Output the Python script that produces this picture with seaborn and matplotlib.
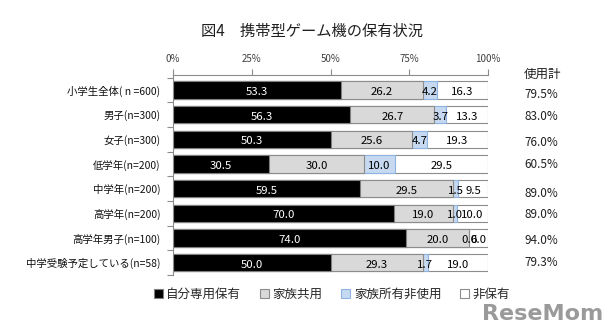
import matplotlib
matplotlib.use("Agg")
import matplotlib.pyplot as plt
from matplotlib.patches import Patch
import seaborn as sns
import pandas as pd
import numpy as np

categories = ["小学生全体( n =600)", "男子(n=300)", "女子(n=300)", "低学年(n=200)",
              "中学年(n=200)", "高学年(n=200)", "高学年男子(n=100)", "中学受験予定している(n=58)"]
own = [53.3, 56.3, 50.3, 30.5, 59.5, 70.0, 74.0, 50.0]
shared = [26.2, 26.7, 25.6, 30.0, 29.5, 19.0, 20.0, 29.3]
family_unused = [4.2, 3.7, 4.7, 10.0, 1.5, 1.0, 0.0, 1.7]
not_owned = [16.3, 13.3, 19.3, 29.5, 9.5, 10.0, 6.0, 19.0]
used_total = ["79.5%", "83.0%", "76.0%", "60.5%", "89.0%", "89.0%", "94.0%", "79.3%"]
series_names = ["自分専用保有", "家族共用", "家族所有非使用", "非保有"]
xticks = [0, 25, 50, 75, 100]
xtick_labels = ["0%", "25%", "50%", "75%", "100%"]
title = "図4　携帯型ゲーム機の保有状況"
right_header = "使用計"

sns.set_theme(style="white")
plt.rcParams["font.family"] = ["Noto Sans CJK JP", "DejaVu Sans"]

colors = ["#000000", "#d9d9d9", "#c6d9f0", "#ffffff"]
edges = ["#7f7f7f", "#8c8c8c", "#8eb4e3", "#8c8c8c"]

df = pd.DataFrame({"cat": categories, "own": own, "shared": shared,
                   "fam": family_unused, "none": not_owned})
cols = ["own", "shared", "fam", "none"]
cum = df[cols].cumsum(axis=1)

fig = plt.figure(figsize=(6.14, 3.29), dpi=100)
ax = fig.add_axes([173 / 614, 1 - 275 / 329, 315 / 614, 200 / 329])

for i in reversed(range(4)):
    sns.barplot(x=cum[cols[i]], y=df["cat"], orient="h", color=colors[i],
                saturation=1, width=0.7, edgecolor=edges[i], linewidth=0.8, ax=ax)

# segment labels
for r in range(len(categories)):
    left = 0.0
    for i, c in enumerate(cols):
        v = df.loc[r, c]
        ax.text(left + v / 2, r + 0.08, f"{v:.1f}", ha="center", va="center",
                fontsize=8.2, color="white" if i == 0 else "black")
        left += v

ax.set_xlim(0, 100)
ax.set_ylim(7.49, -0.61)
ax.set_xlabel("")
ax.set_ylabel("")
ax.xaxis.tick_top()
ax.set_xticks(xticks)
ax.set_xticklabels(xtick_labels, fontsize=7, color="#404040")
ax.tick_params(axis="x", direction="out", length=4, width=0.8, color="#8c8c8c", pad=4)
ax.set_yticks(range(len(categories)))
ax.set_yticklabels(categories, fontsize=7.5, color="#111111")
ax.tick_params(axis="y", length=0, pad=9)
ax.set_yticks(np.arange(-0.5, len(categories), 1), minor=True)
ax.tick_params(axis="y", which="minor", direction="out", length=4, width=0.8, color="#8c8c8c", left=True)
for s in ["right", "bottom"]:
    ax.spines[s].set_visible(False)
for s in ["top", "left"]:
    ax.spines[s].set_color("#8c8c8c")
    ax.spines[s].set_linewidth(0.8)

# right column
fig.text(543 / 614, 1 - 74 / 329, right_header, ha="center", va="center", fontsize=9, color="#202020")
right_y = [94, 117, 143, 164, 193, 215, 241, 263]
for lab, yy in zip(used_total, right_y):
    fig.text(541 / 614, 1 - yy / 329, lab, ha="center", va="center", fontsize=8.5, color="#202020")

fig.text(312 / 614, 1 - 31 / 329, title, ha="center", va="center", fontsize=11, color="#202020")

handles = [Patch(facecolor=colors[i], edgecolor=edges[i], linewidth=0.8) for i in range(4)]
fig.legend(handles, series_names, loc="center", bbox_to_anchor=(332 / 614, 1 - 294 / 329),
           ncol=4, frameon=False, fontsize=9, handlelength=0.7, handleheight=0.7,
           handletextpad=0.3, columnspacing=1.5)

fig.text(603 / 614, 1 - 314 / 329, "ReseMom", ha="right", va="center", fontsize=16,
         fontweight="bold", color="#9a9a9a", family=["DejaVu Sans"])

fig.savefig("out.png", dpi=100)
